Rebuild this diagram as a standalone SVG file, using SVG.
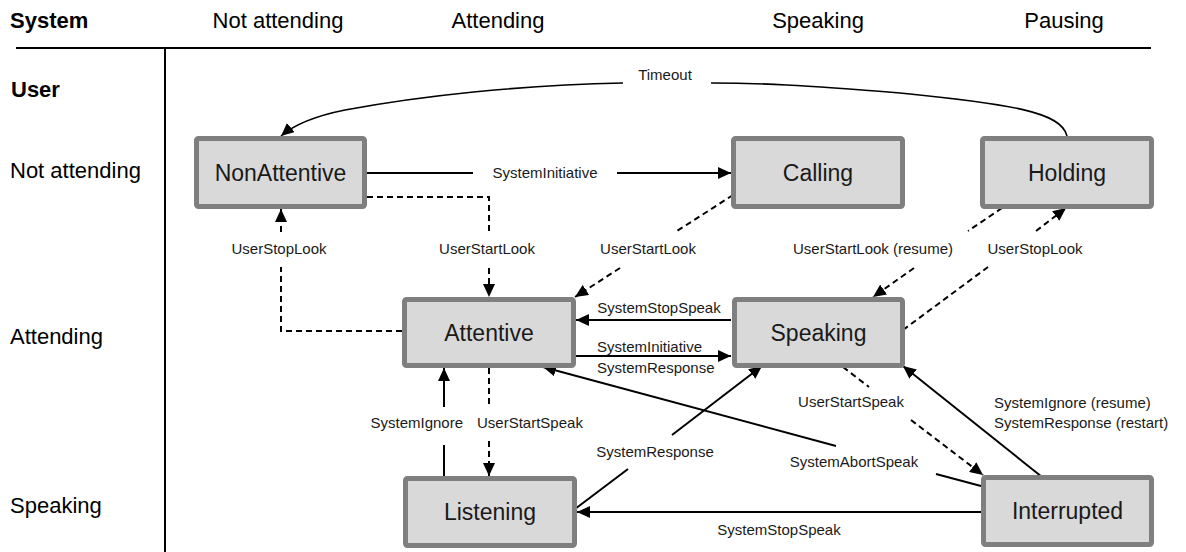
<svg xmlns="http://www.w3.org/2000/svg" width="1186" height="552" viewBox="0 0 1186 552">
<style>
.hd{font-family:"Liberation Sans",Arial,sans-serif;font-size:22px;fill:#000}
.b{font-weight:bold}
.nd rect{fill:#d9d9d9;stroke:#7f7f7f;stroke-width:5}
.nd text{font-family:"Liberation Sans",Arial,sans-serif;font-size:23px;fill:#1a1a1a;text-anchor:middle}
.lb{font-family:"Liberation Sans",Arial,sans-serif;font-size:15px;fill:#1a1a1a}
.m{text-anchor:middle}
.e{text-anchor:end}
.s{fill:none;stroke:#000;stroke-width:2}
.d{fill:none;stroke:#000;stroke-width:2;stroke-dasharray:6 4}
.t{fill:none;stroke:#000;stroke-width:1.6}
</style>
<defs>
<marker id="ah" markerUnits="userSpaceOnUse" markerWidth="14" markerHeight="12" refX="13" refY="6" orient="auto">
<path d="M0,0 L13,6 L0,12 z" fill="#000"/>
</marker>
</defs>
<g id="grid">
<line x1="16" y1="48" x2="1151" y2="48" stroke="#000" stroke-width="2"/>
<line x1="165" y1="48" x2="165" y2="552" stroke="#000" stroke-width="2"/>
<text class="hd b" x="10" y="28">System</text>
<text class="hd m" x="278" y="28">Not attending</text>
<text class="hd m" x="498" y="28">Attending</text>
<text class="hd m" x="818" y="28">Speaking</text>
<text class="hd m" x="1064" y="28">Pausing</text>
<text class="hd b" x="11" y="97">User</text>
<text class="hd" x="10" y="178">Not attending</text>
<text class="hd" x="10" y="344">Attending</text>
<text class="hd" x="10" y="513">Speaking</text>
</g>
<g id="connectors">
<path class="t" d="M1067,136 C1062,112 1010,104 900,93 C800,85 760,83 711,83"/>
<path class="t" d="M623,83 C520,85 420,96 345,110 C315,116 295,124 281,136" marker-end="url(#ah)"/>
<text class="lb m" x="665" y="80">Timeout</text>
<path class="s" d="M367,173 H473"/>
<path class="s" d="M617,173 H731" marker-end="url(#ah)"/>
<text class="lb m" x="545" y="178">SystemInitiative</text>
<path class="d" d="M367,197 H489 V232"/>
<path class="d" d="M489,268 V297" marker-end="url(#ah)"/>
<text class="lb m" x="487" y="254">UserStartLook</text>
<path class="d" d="M402,331 H281 V267"/>
<path class="d" d="M281,232 V209" marker-end="url(#ah)"/>
<text class="lb m" x="279" y="254">UserStopLook</text>
<path class="d" d="M733,195 L677,231"/>
<path class="d" d="M620,268 L575,297" marker-end="url(#ah)"/>
<text class="lb m" x="648" y="254">UserStartLook</text>
<path class="d" d="M1002,208 L968,231"/>
<path class="d" d="M914,268 L873,297" marker-end="url(#ah)"/>
<text class="lb m" x="873" y="254">UserStartLook (resume)</text>
<path class="d" d="M903,330 L988,267"/>
<path class="d" d="M1036,231 L1066,208" marker-end="url(#ah)"/>
<text class="lb m" x="1035" y="254">UserStopLook</text>
<path class="s" d="M731,320 H576" marker-end="url(#ah)"/>
<text class="lb m" x="659" y="313">SystemStopSpeak</text>
<path class="s" d="M576,356 H731" marker-end="url(#ah)"/>
<text class="lb" x="597" y="352">SystemInitiative</text>
<text class="lb" x="597" y="373">SystemResponse</text>
<path class="s" d="M444,476 V445"/>
<path class="s" d="M444,407 V368" marker-end="url(#ah)"/>
<text class="lb e" x="463" y="428">SystemIgnore</text>
<path class="d" d="M489,368 V406"/>
<path class="d" d="M489,441 V476" marker-end="url(#ah)"/>
<text class="lb" x="477" y="428">UserStartSpeak</text>
<path class="s" d="M575,509 L628,469"/>
<path class="s" d="M672,435 L762,366" marker-end="url(#ah)"/>
<text class="lb m" x="655" y="457">SystemResponse</text>
<path class="s" d="M981,486 L936,474"/>
<path class="s" d="M836,446 L543,367" marker-end="url(#ah)"/>
<text class="lb m" x="854" y="467">SystemAbortSpeak</text>
<path class="d" d="M843,367 L869,387"/>
<path class="d" d="M911,420 L983,475" marker-end="url(#ah)"/>
<text class="lb m" x="851" y="407">UserStartSpeak</text>
<path class="s" d="M1042,477 L903,366" marker-end="url(#ah)"/>
<text class="lb" x="994" y="408">SystemIgnore (resume)</text>
<text class="lb" x="994" y="428">SystemResponse (restart)</text>
<path class="s" d="M981,512 H577" marker-end="url(#ah)"/>
<text class="lb m" x="779" y="535">SystemStopSpeak</text>
</g>
<g id="NonAttentive" class="nd"><rect x="196.5" y="138.5" width="168" height="68" rx="2"/><text x="280.5" y="180.5">NonAttentive</text></g>
<g id="Calling" class="nd"><rect x="733.5" y="138.5" width="169" height="68" rx="2"/><text x="818" y="180.5">Calling</text></g>
<g id="Holding" class="nd"><rect x="982.5" y="138.5" width="169" height="68" rx="2"/><text x="1067" y="180.5">Holding</text></g>
<g id="Attentive" class="nd"><rect x="404.5" y="299.5" width="169" height="66" rx="2"/><text x="489" y="340.5">Attentive</text></g>
<g id="Speaking" class="nd"><rect x="734.5" y="299.5" width="168" height="66" rx="2"/><text x="818.5" y="340.5">Speaking</text></g>
<g id="Listening" class="nd"><rect x="405.5" y="478.5" width="169" height="67" rx="2"/><text x="490" y="520">Listening</text></g>
<g id="Interrupted" class="nd"><rect x="983.5" y="477.5" width="168" height="67" rx="2"/><text x="1067.5" y="519">Interrupted</text></g>
</svg>
